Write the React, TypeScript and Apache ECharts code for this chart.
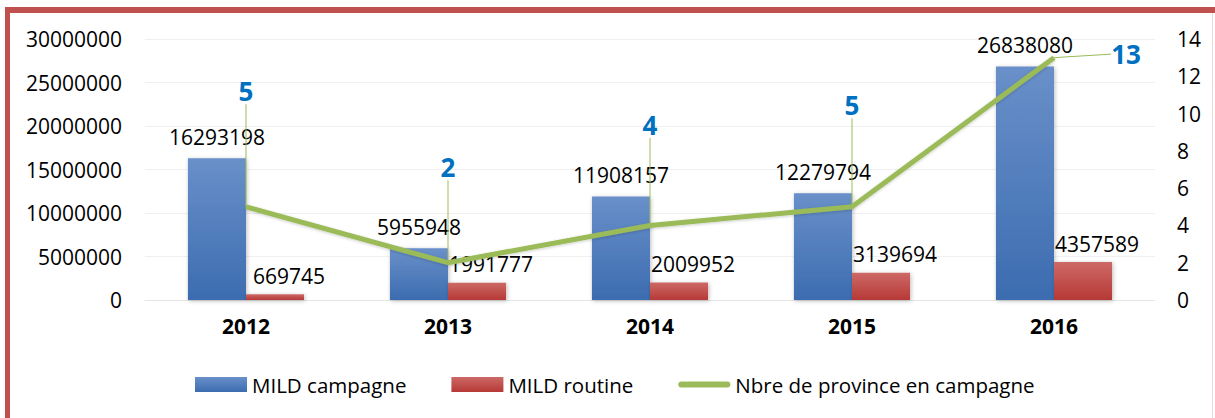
import React, { useEffect, useRef } from "react";
import * as echarts from "echarts";

const categories = ["2012", "2013", "2014", "2015", "2016"];
const mildCampagne = [16293198, 5955948, 11908157, 12279794, 26838080];
const mildRoutine = [669745, 1991777, 2009952, 3139694, 4357589];
const nbreProvince = [5, 2, 4, 5, 13];
const seriesNames = ["MILD campagne", "MILD routine", "Nbre de province en campagne"];

// label displacement for the line labels (layout only)
const lineLabelShift: [number, number][] = [
  [0, -97],
  [0, -77],
  [0, -82],
  [0, -83],
  [72, 15],
];

const FONT = "'Open Sans', 'DejaVu Sans', sans-serif";

export default function App() {
  const ref = useRef<HTMLDivElement>(null);
  useEffect(() => {
    if (!ref.current) return;
    const chart = echarts.init(ref.current, null, { renderer: "svg" });
    const blueGrad = new echarts.graphic.LinearGradient(0, 0, 0, 1, [
      { offset: 0, color: "#6990C9" },
      { offset: 1, color: "#3C6CB0" },
    ]);
    const redGrad = new echarts.graphic.LinearGradient(0, 0, 0, 1, [
      { offset: 0, color: "#CD6966" },
      { offset: 1, color: "#B63936" },
    ]);
    chart.setOption({
      animation: false,
      backgroundColor: "#FFFFFF",
      textStyle: { fontFamily: FONT },
      grid: { left: 145, right: 60, top: 39, bottom: 118, containLabel: false },
      legend: {
        left: 190,
        top: 369,
        itemGap: 45,
        itemWidth: 52,
        itemHeight: 15,
        textStyle: { fontSize: 20.5, color: "#000000", fontFamily: FONT },
        data: [
          { name: seriesNames[0], icon: "rect" },
          { name: seriesNames[1], icon: "rect" },
          {
            name: seriesNames[2],
            icon: "path://M3.5,0 H56.5 A3.5,3.5 0 0 1 56.5,7 H3.5 A3.5,3.5 0 0 1 3.5,0 Z",
            itemStyle: { color: "#9BBB59" },
          },
        ],
      },
      xAxis: {
        type: "category",
        data: categories,
        axisTick: { show: false },
        axisLine: { show: true, lineStyle: { color: "#E4E4E4", width: 1 } },
        axisLabel: {
          fontSize: 21,
          fontWeight: "bold",
          color: "#000000",
          margin: 15,
          fontFamily: FONT,
        },
      },
      yAxis: [
        {
          type: "value",
          min: 0,
          max: 30000000,
          interval: 5000000,
          axisLine: { show: false },
          axisTick: { show: false },
          splitLine: { lineStyle: { color: "#F0F0F0", width: 1 } },
          axisLabel: {
            fontSize: 21,
            color: "#000000",
            margin: 23,
            fontFamily: FONT,
            formatter: (v: number) => String(v),
          },
        },
        {
          type: "value",
          min: 0,
          max: 14,
          interval: 2,
          axisLine: { show: false },
          axisTick: { show: false },
          splitLine: { show: false },
          axisLabel: { fontSize: 21, color: "#000000", margin: 22, fontFamily: FONT },
        },
      ],
      series: [
        {
          name: seriesNames[0],
          type: "bar",
          data: mildCampagne,
          barGap: "0%",
          barCategoryGap: "42.5%",
          itemStyle: {
            color: blueGrad,
            shadowBlur: 4,
            shadowColor: "rgba(0,0,0,0.25)",
            shadowOffsetX: 1,
            shadowOffsetY: 1,
          },
          label: {
            show: true,
            position: "top",
            distance: 11,
            fontSize: 21,
            color: "#000000",
            fontFamily: FONT,
          },
          z: 2,
        },
        {
          name: seriesNames[1],
          type: "bar",
          data: mildRoutine,
          itemStyle: {
            color: redGrad,
            shadowBlur: 4,
            shadowColor: "rgba(0,0,0,0.25)",
            shadowOffsetX: 1,
            shadowOffsetY: 1,
          },
          label: {
            show: true,
            position: "top",
            distance: 8,
            offset: [14, 0],
            fontSize: 21,
            color: "#000000",
            fontFamily: FONT,
          },
          z: 2,
        },
        {
          name: seriesNames[2],
          type: "line",
          yAxisIndex: 1,
          data: nbreProvince,
          symbol: "circle",
          symbolSize: 1,
          itemStyle: { color: "#9BBB59" },
          lineStyle: {
            color: "#9BBB59",
            width: 5,
            shadowBlur: 3,
            shadowColor: "rgba(0,0,0,0.2)",
            shadowOffsetY: 1,
          },
          label: {
            show: true,
            position: "top",
            distance: 5,
            fontSize: 26,
            fontWeight: "bold",
            color: "#0070C0",
            fontFamily: FONT,
          },
          labelLine: {
            show: true,
            smooth: 0.2,
            lineStyle: { color: "#9BBB59", width: 1 },
          },
          labelLayout: (params: any) => {
            const s = lineLabelShift[params.dataIndex] || [0, 0];
            return { dx: s[0], dy: s[1] };
          },
          z: 5,
        },
      ],
      graphic: [
        {
          type: "rect",
          shape: { x: 5, y: 7, width: 5, height: 411 },
          style: { fill: "#C0504D" },
          z: 100,
        },
        {
          type: "rect",
          shape: { x: 5, y: 7, width: 1210, height: 6 },
          style: { fill: "#C0504D" },
          z: 100,
        },
        {
          type: "rect",
          shape: { x: 1212, y: 13, width: 1, height: 405 },
          style: { fill: "#F4D3D2" },
          z: 100,
        },
      ],
    });
    return () => chart.dispose();
  }, []);
  return (
    <div
      ref={ref}
      style={{ position: "fixed", left: 0, top: 0, width: 1215, height: 418, background: "#fff" }}
    />
  );
}
